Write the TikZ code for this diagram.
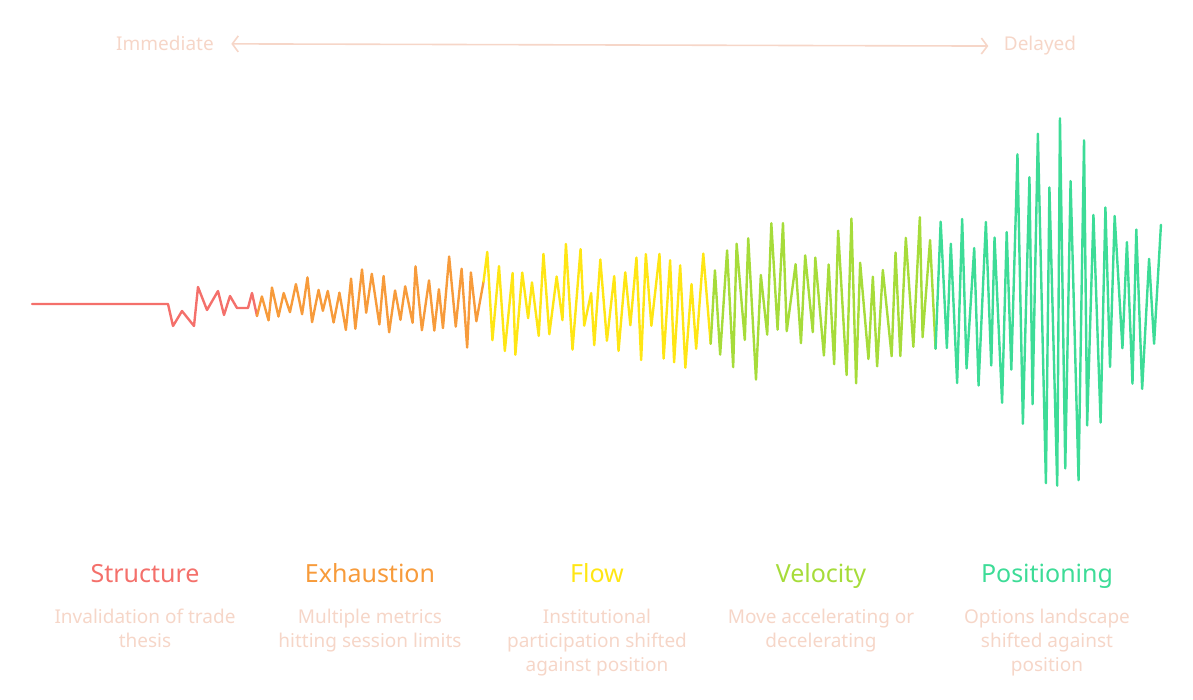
\documentclass[tikz,border=0pt]{standalone}
\usepackage{fontspec}
\setmainfont{Noto Sans}
\usetikzlibrary{arrows.meta,positioning}

\definecolor{stcol}{RGB}{244,112,107}
\definecolor{excol}{RGB}{247,155,59}
\definecolor{flcol}{RGB}{255,230,20}
\definecolor{vecol}{RGB}{166,220,58}
\definecolor{pocol}{RGB}{61,220,151}
\definecolor{palecol}{RGB}{246,214,200}

\tikzset{
  wave/.style={line width=2.4pt, line join=round, line cap=round},
  stage/.style={font=\fontsize{25}{30}\selectfont, anchor=base},
  desc/.style={font=\fontsize{19}{24}\selectfont, text=palecol, align=center, anchor=north, inner sep=0pt},
  ends/.style={font=\fontsize{19}{24}\selectfont, text=palecol, anchor=base},
  timearrow/.style={palecol, line width=1.6pt, {Straight Barb[length=6pt,width=16pt]}-{Straight Barb[length=6pt,width=16pt]}}
}

\begin{document}
\begin{tikzpicture}[x=1pt, y=-1pt]
    \useasboundingbox (0,0) rectangle (1193,700);
    \pgfmathsetseed{23}

    % Time axis
    \node[ends] (imm) at (165,51) {Immediate};
    \node[ends] (del) at (1040,51) {Delayed};
    \draw[timearrow] ([xshift=14pt]imm.east) -- ([xshift=-12pt]del.west);

    % Structure wave
    \draw[wave, stcol] (32,304) -- (168,304) -- (173,326) -- (182,311) -- (194,326)
        -- (198,287) -- (207,310) -- (218,291) -- (224,315) -- (230,296) -- (237,308)
        -- (248,308) -- (252,293) -- (257,316) coordinate (stEnd);

    % Exhaustion wave
    \draw[wave, excol] (stEnd) \foreach \i in {1,...,41}{
        -- ({257+\i*5.5+1.6*rand}, {303+(1-2*mod(\i,2))*(0.35+0.65*rnd)*(15+38*\i/41)+5*rand})
    } coordinate (exEnd);

    % Flow wave
    \draw[wave, flcol] (exEnd) \foreach \i in {1,...,40}{
        -- ({482.5+\i*5.67+1.8*rand}, {302+(1-2*mod(\i,2))*(0.25+0.75*rnd)*(55+10*\i/40)+8*rand})
    } coordinate (flEnd);

    % Velocity wave
    \draw[wave, vecol] (flEnd) \foreach \i in {1,...,40}{
        -- ({709.3+\i*5.65+1.8*rand}, {302+(1-2*mod(\i,2))*(0.3+0.7*rnd)*(72+22*\i/40)+8*rand})
    } coordinate (veEnd);

    % Positioning wave
    \draw[wave, pocol] (veEnd) \foreach \i in {1,...,41}{
        -- ({935.3+\i*5.47+1.6*rand}, {300+(1-2*mod(\i,2))*(0.45+0.55*rnd)*(85+120*exp(-((\i-22)/9)^2))})
    } coordinate (poEnd);

    % Stage labels
    \node[stage, text=stcol] (stTitle) at (145,582) {Structure};
    \node[stage, text=excol] (exTitle) at (370,582) {Exhaustion};
    \node[stage, text=flcol] (flTitle) at (597,582) {Flow};
    \node[stage, text=vecol] (veTitle) at (821,582) {Velocity};
    \node[stage, text=pocol] (poTitle) at (1047,582) {Positioning};

    % Descriptions
    \node[desc] (stDesc) at (145,609) {Invalidation of trade\\thesis};
    \node[desc] (exDesc) at (370,609) {Multiple metrics\\hitting session limits};
    \node[desc] (flDesc) at (597,609) {Institutional\\participation shifted\\against position};
    \node[desc] (veDesc) at (821,609) {Move accelerating or\\decelerating};
    \node[desc] (poDesc) at (1047,609) {Options landscape\\shifted against\\position};
\end{tikzpicture}
\end{document}
